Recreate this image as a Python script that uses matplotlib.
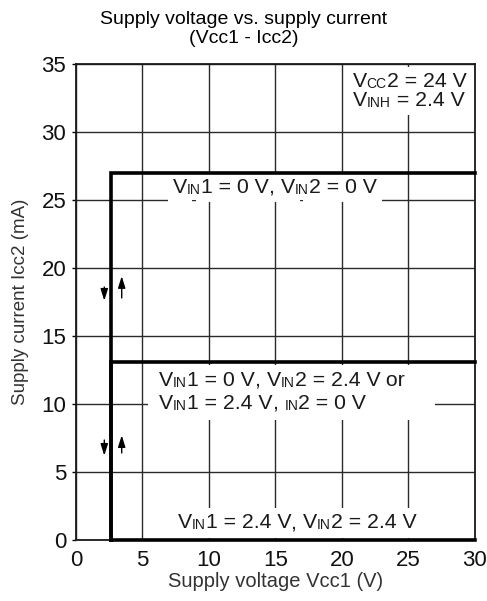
"""
Supply voltage vs. supply current (Vcc1 - Icc2) step chart.
"""

import matplotlib
matplotlib.use('Agg')
import matplotlib.pyplot as plt
from matplotlib.patches import Rectangle

plt.rcParams['font.family'] = ['Liberation Sans', 'DejaVu Sans']

# Data: Vcc1 threshold and the three Icc2 levels
vcc1_on = 2.65          # V, switching point
vcc1_max = 30
icc2_high = 27.0        # VIN1 = 0 V, VIN2 = 0 V
icc2_mid = 13.1         # one input at 2.4 V
icc2_low = 0.0          # both inputs at 2.4 V

x_ticks = [0, 5, 10, 15, 20, 25, 30]
y_ticks = [0, 5, 10, 15, 20, 25, 30, 35]

# hysteresis arrows (x, y_from, y_to)
arrows = [
    (2.13, 18.6, 17.6),
    (3.44, 17.8, 19.4),
    (2.13, 7.35, 6.2),
    (3.44, 6.4, 7.7),
]

BIG = 15.3
SMALL = 10


def rich_text(ax, x, y, parts, bbox=True):
    """Draw text made of normal / small-caps pieces, left aligned.
    First pass draws white boxes, second pass the glyphs on top."""
    passes = [('white', 5, True), ('#1a1a1a', 6, False)] if bbox else [('#1a1a1a', 6, False)]
    for color, z, with_box in passes:
        prev = None
        for s, small in parts:
            kw = dict(fontsize=SMALL if small else BIG, color=color, zorder=z)
            if with_box:
                kw['bbox'] = dict(boxstyle='square,pad=0.25', fc='white', ec='none')
            if prev is None:
                prev = ax.text(x, y, s, ha='left', va='center', **kw)
            else:
                prev = ax.annotate(s, xy=(1, 0), xycoords=prev, ha='left', va='bottom', **kw)


def vin(n, val):
    return [('V', False), ('IN', True), (f'{n} = {val} V', False)]


fig = plt.figure(figsize=(4.87, 6.01), dpi=100)
ax = fig.add_axes([0.156, 0.1015, 0.819, 0.792])

ax.set_xlim(0, vcc1_max)
ax.set_ylim(0, 35)
ax.set_xticks(x_ticks)
ax.set_yticks(y_ticks)
ax.tick_params(axis='x', length=0, pad=7, labelsize=16, labelcolor='#111111')
ax.tick_params(axis='y', length=3, width=1, pad=4, labelsize=16, labelcolor='#111111')
ax.grid(True, color='#2a2a2a', linewidth=1.0, zorder=1)
ax.set_axisbelow(True)
for sp in ax.spines.values():
    sp.set_linewidth(1.3)
    sp.set_color('#1a1a1a')

# step curves
for level in [icc2_high, icc2_mid, icc2_low]:
    ax.plot([vcc1_on, vcc1_on, vcc1_max], [0, level, level],
            color='black', linewidth=2.6, solid_joinstyle='miter', zorder=5.5, clip_on=False)

for x, y0, y1 in arrows:
    ax.annotate('', xy=(x, y1), xytext=(x, y0),
                arrowprops=dict(arrowstyle='-|>,head_length=0.7,head_width=0.22', color='black',
                                lw=1.0, mutation_scale=10, shrinkA=0, shrinkB=0), zorder=5)

# white area behind the middle labels
ax.add_patch(Rectangle((5.4, 8.8), 21.6, 4.1, facecolor='white', edgecolor='none', zorder=3))

rich_text(ax, 7.3, 25.95, vin(1, 0) + [(', ', False)] + vin(2, 0))
rich_text(ax, 6.25, 11.75, vin(1, 0) + [(', ', False)] + vin(2, 2.4) + [(' or', False)], bbox=False)
rich_text(ax, 6.25, 10.05, vin(1, 2.4) + [(', ', False), ('IN', True), ('2 = 0 V', False)], bbox=False)
rich_text(ax, 7.65, 1.25, vin(1, 2.4) + [(', ', False)] + vin(2, 2.4))
rich_text(ax, 20.8, 33.7, [('V', False), ('CC', True), ('2 = 24 V', False)])
rich_text(ax, 20.8, 32.35, [('V', False), ('INH', True), (' = 2.4 V', False)])

fig.text(0.5, 1 - 29 / 601, 'Supply voltage vs. supply current\n(Vcc1 - Icc2)', fontsize=14,
         color='black', ha='center', va='center', linespacing=1.2)
ax.set_xlabel('Supply voltage Vcc1 (V)', fontsize=14.5, color='#333333', labelpad=1)
ax.set_ylabel('Supply current Icc2 (mA)', fontsize=13.5, color='#333333', labelpad=9)

fig.savefig('out.png', dpi=100)
